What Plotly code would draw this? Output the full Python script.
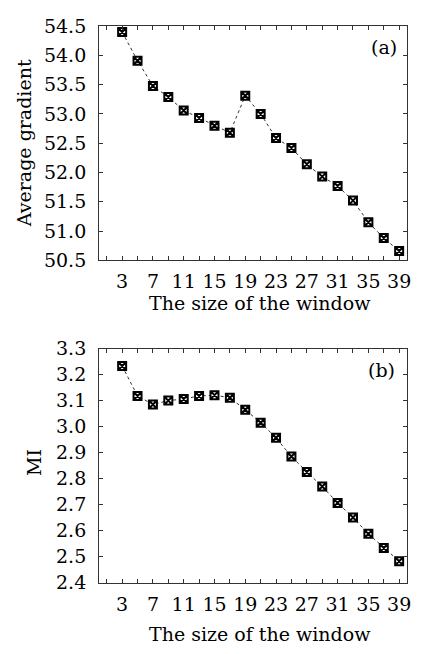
import plotly.graph_objects as go

window_sizes = [3, 5, 7, 9, 11, 13, 15, 17, 19, 21, 23, 25, 27, 29, 31, 33, 35, 37, 39]
avg_gradient = [54.40, 53.91, 53.48, 53.29, 53.06, 52.93, 52.80, 52.68, 53.31, 53.00,
                52.59, 52.42, 52.14, 51.93, 51.77, 51.52, 51.15, 50.88, 50.66]
mi_values = [3.233, 3.118, 3.085, 3.100, 3.106, 3.118, 3.121, 3.111, 3.065, 3.015,
             2.957, 2.885, 2.826, 2.770, 2.707, 2.651, 2.588, 2.534, 2.483]
x_tick_vals = [3, 7, 11, 15, 19, 23, 27, 31, 35, 39]
x_title = "The size of the window"

W, H = 427, 654
FONT = "DejaVu Serif"
FS = 19

def px_x(p):
    return p / W

def px_y(p):
    return 1 - p / H

fig = go.Figure()

marker = dict(symbol="square-x", size=8, color="white",
              line=dict(color="black", width=2))
line = dict(color="#333333", width=1, dash="dot")

fig.add_trace(go.Scatter(x=window_sizes, y=avg_gradient, mode="lines+markers",
                         marker=marker, line=line, xaxis="x", yaxis="y",
                         showlegend=False))
fig.add_trace(go.Scatter(x=window_sizes, y=mi_values, mode="lines+markers",
                         marker=marker, line=line, xaxis="x2", yaxis="y2",
                         showlegend=False))

xdom = [px_x(100), px_x(410.7)]
common_x = dict(range=[0, 40], domain=xdom, tickmode="array", tickvals=x_tick_vals,
                ticks="inside", ticklen=4, tickcolor="#333", tickwidth=1,
                minor=dict(dtick=2, tick0=1, ticks="inside", ticklen=4, tickcolor="#333"),
                showline=True, linecolor="#333", linewidth=1, mirror="ticks",
                showgrid=False, zeroline=False,
                tickfont=dict(family=FONT, size=FS, color="black"),
                ticklabelstandoff=4)
common_y = dict(ticks="inside", ticklen=4, tickcolor="#333", tickwidth=1,
                showline=True, linecolor="#333", linewidth=1, mirror="ticks",
                showgrid=False, zeroline=False,
                tickfont=dict(family=FONT, size=FS, color="black"),
                ticklabelstandoff=8)

fig.update_layout(
    width=W, height=H, margin=dict(l=0, r=0, t=0, b=0),
    paper_bgcolor="white", plot_bgcolor="white",
    xaxis=dict(**common_x, anchor="y"),
    yaxis=dict(**common_y, domain=[px_y(258), px_y(15.7)], range=[50.5, 54.5],
               dtick=0.5, tick0=50.5, tickformat=".1f", anchor="x"),
    xaxis2=dict(**common_x, anchor="y2"),
    yaxis2=dict(**common_y, domain=[px_y(591.7), px_y(349.3)], range=[2.4, 3.3],
                dtick=0.1, tick0=2.4, tickformat=".1f", anchor="x2"),
)

annots = [
    dict(text="(a)", x=px_x(403), y=px_y(37), xanchor="right", yanchor="middle"),
    dict(text="(b)", x=px_x(401), y=px_y(372), xanchor="right", yanchor="middle"),
    dict(text=x_title, x=px_x(262), y=px_y(302), xanchor="center", yanchor="middle"),
    dict(text=x_title, x=px_x(262), y=px_y(645), xanchor="center", yanchor="middle"),
    dict(text="Average gradient", x=px_x(25), y=px_y(137), xanchor="center",
         yanchor="middle", textangle=-90),
    dict(text="MI", x=px_x(35), y=px_y(467), xanchor="center", yanchor="middle",
         textangle=-90),
]
for a in annots:
    fig.add_annotation(xref="paper", yref="paper", showarrow=False,
                       font=dict(family=FONT, size=FS, color="black"), **a)

fig.write_html("out.html")
